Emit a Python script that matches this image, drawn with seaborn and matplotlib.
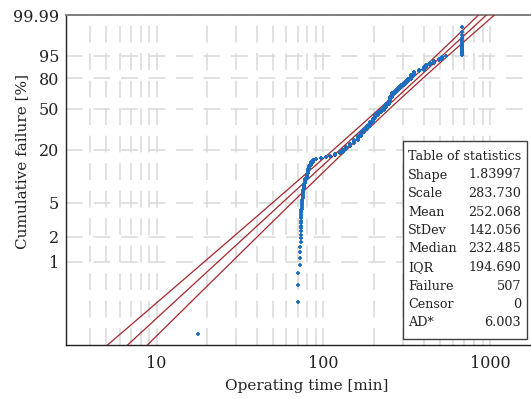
import numpy as np
import pandas as pd
import matplotlib
matplotlib.use('Agg')
import matplotlib.pyplot as plt
import seaborn as sns
from matplotlib.patches import Rectangle
from matplotlib.ticker import FixedLocator, FixedFormatter, NullLocator, NullFormatter

# Weibull fit (values of the statistics table)
SHAPE = 1.83997
SCALE = 283.730

# failure times [min], as value + number of ties
fail_times = [17.6, 70.5, 72.1, 72.7, 73.0, 73.5, 74.2, 75.0, 76.5, 77.9, 79.2, 80.5,
              82.0, 84.0, 86.5, 90.0, 96.0, 103, 110, 118, 125, 131, 137, 145, 152,
              160, 167, 175, 183, 190, 197, 204, 212, 221, 230, 238, 246, 252, 258,
              268, 277, 285, 292, 302, 311, 322, 333, 349, 372, 400, 412, 436, 459,
              490, 514, 545, 681]
fail_counts = [1, 3, 1, 3, 6, 7, 7, 8, 6, 6, 7, 7,
               6, 6, 5, 2, 2, 2, 3, 4, 4, 6, 8, 8, 10,
               12, 14, 12, 12, 14, 16, 14, 14, 12, 14, 14, 16, 20, 20,
               10, 10, 10, 10, 10, 10, 10, 16, 16, 6, 10, 8, 6, 6,
               4, 6, 2, 25]

# confidence band (percent level -> time)
band_pct = [0.1, 0.2, 0.5, 1, 2, 5, 10, 20, 35, 50, 63.2, 80, 90, 95, 99, 99.9, 99.99]
band_left_t = [5.04, 7.55, 12.86, 19.25, 28.85, 49.40, 74.71, 114.7, 166.2, 216.5,
               264.5, 341.8, 413.3, 474.3, 593.9, 732.4, 849.3]
band_right_t = [8.74, 12.43, 19.78, 28.17, 40.17, 64.58, 93.35, 137.5, 193.9, 249.7,
                304.3, 395.1, 482.1, 558.5, 713.0, 898.3, 1059]

y_ticks = [1, 2, 5, 20, 50, 80, 95, 99.99]
y_ticklabels = ['1', '2', '5', '20', '50', '80', '95', '99.99']
x_ticks = [10, 100, 1000]
x_ticklabels = ['10', '100', '1000']

stats_names = ['Shape', 'Scale', 'Mean', 'StDev', 'Median', 'IQR', 'Failure', 'Censor', 'AD*']
stats_values = ['1.83997', '283.730', '252.068', '142.056', '232.485', '194.690', '507', '0', '6.003']

LINE_COLOR = '#a3262b'
POINT_COLOR = '#1f6dbf'

sns.set_style('white')
plt.rcParams['font.family'] = ['DejaVu Serif']
plt.rcParams['text.color'] = '#222222'


def weibull_fwd(p):
    p = np.clip(np.asarray(p, dtype=float), 1e-9, 100 - 1e-9)
    return np.log(-np.log(1 - p / 100.0))


def weibull_inv(y):
    return 100.0 * (1 - np.exp(-np.exp(np.asarray(y, dtype=float))))


# points: median ranks
times = np.repeat(fail_times, fail_counts)
n = len(times)
ranks = np.arange(1, n + 1)
df_pts = pd.DataFrame({'t': times, 'F': 100 * (ranks - 0.3) / (n + 0.4)})

# fitted line at the band levels
p = np.array(band_pct)
df_fit = pd.DataFrame({'t': SCALE * (-np.log(1 - p / 100)) ** (1 / SHAPE), 'F': p})
df_lo = pd.DataFrame({'t': band_left_t, 'F': band_pct})
df_hi = pd.DataFrame({'t': band_right_t, 'F': band_pct})

fig = plt.figure(figsize=(5.31, 3.99), dpi=100)
ax = fig.add_axes([66 / 531, 1 - 345 / 399, (530 - 66) / 531, (345 - 15) / 399])

ax.set_xscale('log')
ax.set_yscale('function', functions=(weibull_fwd, weibull_inv))

for d in (df_lo, df_fit, df_hi):
    sns.lineplot(data=d, x='t', y='F', sort=False, estimator=None,
                 color=LINE_COLOR, lw=0.9, ax=ax, zorder=3)

sns.scatterplot(data=df_pts, x='t', y='F', marker='+', s=9, color=POINT_COLOR,
                linewidth=1.3, ax=ax, zorder=4)

ax.set_xlim(2.86, 1730)
ax.set_ylim(0.1012, 99.99)

ax.xaxis.set_major_locator(FixedLocator(x_ticks))
ax.xaxis.set_major_formatter(FixedFormatter(x_ticklabels))
minor_x = [m * 10 ** k for k in range(0, 3) for m in range(2, 10) if m * 10 ** k > 3.5]
ax.xaxis.set_minor_locator(FixedLocator(minor_x))
ax.xaxis.set_minor_formatter(NullFormatter())
ax.yaxis.set_major_locator(FixedLocator(y_ticks))
ax.yaxis.set_major_formatter(FixedFormatter(y_ticklabels))
ax.yaxis.set_minor_locator(NullLocator())

ax.tick_params(axis='both', which='major', direction='out', length=4, width=0.8,
               labelsize=11.5, colors='#222222', pad=3)
ax.tick_params(axis='y', which='major', pad=1)
ax.tick_params(axis='x', which='minor', length=0)

grid_kw = dict(color='#d9d9d9', linewidth=1.1, linestyle=(0, (11, 7)))
ax.grid(True, which='both', axis='x', **grid_kw)
ax.grid(True, which='major', axis='y', **grid_kw)
ax.set_axisbelow(True)

for side in ('left', 'bottom'):
    ax.spines[side].set_color('#222222')
    ax.spines[side].set_linewidth(1.0)
ax.spines['top'].set_color('#7f7f7f')
ax.spines['top'].set_linewidth(1.4)
ax.spines['right'].set_visible(False)

ax.set_xlabel('Operating time [min]', fontsize=11, color='#222222', va='top')
ax.xaxis.set_label_coords(0.519, -0.104)
ax.set_ylabel('Cumulative failure [%]', fontsize=11, color='#222222', va='center')
ax.yaxis.set_label_coords(-0.095, 0.555)

# table of statistics
W, H = 531, 399
box = Rectangle((403 / W, 1 - 339 / H), (527 - 403) / W, (339 - 141) / H,
                transform=fig.transFigure, facecolor='white', edgecolor='#404040',
                linewidth=1.0, zorder=5)
fig.add_artist(box)
row_y = 156.5
fig.text(408 / W, 1 - row_y / H, 'Table of statistics', fontsize=9.2,
         va='center', ha='left', zorder=6)
for k, (name, val) in enumerate(zip(stats_names, stats_values), start=1):
    yy = 1 - (row_y + 18.5 * k) / H
    fig.text(408 / W, yy, name, fontsize=9.2, va='center', ha='left', zorder=6)
    fig.text(521 / W, yy, val, fontsize=9.2, va='center', ha='right', zorder=6)

fig.savefig('out.png', dpi=100)
